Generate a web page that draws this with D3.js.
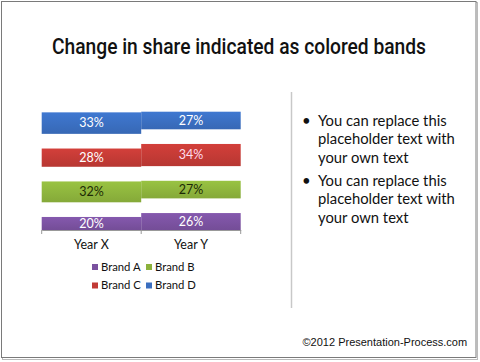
<!DOCTYPE html>
<html><head><meta charset="utf-8">
<script src="https://cdn.jsdelivr.net/npm/d3@7"></script>
<style>html,body{margin:0;padding:0;background:#fff;}svg{display:block;}</style>
</head><body>
<script>
const categories = ["Year X", "Year Y"];
const brands = ["Brand A", "Brand B", "Brand C", "Brand D"];
const brandA = [20, 26];
const brandB = [32, 27];
const brandC = [28, 34];
const brandD = [33, 27];
const spacer = 22.5; // invisible gap band between brands
const colors = ["#7a519f", "#8cb23c", "#c13a35", "#3a6ebf"];
const labelColors = [["#fff", "#fff"], ["#1d2a05", "#1d2a05"], ["#fff", "#fde"], ["#fff", "#fff"]];
const bullets = [["You can replace this", "placeholder text with", "your own text"],
                 ["You can replace this", "placeholder text with", "your own text"]];
const title = "Change in share indicated as colored bands";
const footer = "\u00a92012 Presentation-Process.com";

const W = 480, H = 362;
const svg = d3.select("body").append("svg").attr("width", W).attr("height", H);
const defs = svg.append("defs");
colors.forEach((c, i) => {
  const g = defs.append("linearGradient").attr("id", "g" + i).attr("x1", 0).attr("y1", 0).attr("x2", 0).attr("y2", 1);
  g.append("stop").attr("offset", 0).attr("stop-color", d3.color(c).brighter(0.25));
  g.append("stop").attr("offset", 1).attr("stop-color", d3.color(c).darker(0.15));
});

// frame with shadow
svg.append("rect").attr("x", 2.5).attr("y", 2.5).attr("width", 475).attr("height", 357).attr("fill", "none").attr("stroke", "#bbb");
svg.append("rect").attr("x", 1.5).attr("y", 1.5).attr("width", 474.5).attr("height", 356).attr("fill", "#fff").attr("stroke", "#7a7a7a");

svg.append("text").attr("x", 239).attr("y", 54).attr("text-anchor", "middle")
  .attr("font-family", "Roboto, 'DejaVu Sans Condensed', sans-serif")
  .attr("font-weight", 500).attr("font-size", 22).attr("fill", "#111")
  .attr("textLength", 374).attr("lengthAdjust", "spacingAndGlyphs").text(title);

// data rows with spacers
const rows = categories.map((cat, i) => ({cat, a: brandA[i], s1: spacer, b: brandB[i], s2: spacer, c: brandC[i], s3: spacer, d: brandD[i]}));
const keys = ["a", "s1", "b", "s2", "c", "s3", "d"];
const stack = d3.stack().keys(keys)(rows);
const maxTotal = d3.max(rows, r => keys.reduce((s, k) => s + r[k], 0));

const x = d3.scaleBand().domain(categories).range([41.7, 240.7]).padding(0);
const y = d3.scaleLinear().domain([0, maxTotal]).range([230, 111.7]);

const brandKeys = ["a", "b", "c", "d"];
stack.forEach(layer => {
  const bi = brandKeys.indexOf(layer.key);
  if (bi < 0) return;
  const g = svg.append("g");
  g.selectAll("rect").data(layer).join("rect")
    .attr("x", d => x(d.data.cat)).attr("width", x.bandwidth())
    .attr("y", d => y(d[1])).attr("height", d => y(d[0]) - y(d[1]))
    .attr("fill", "url(#g" + bi + ")");
  g.selectAll("text").data(layer).join("text")
    .attr("x", d => x(d.data.cat) + x.bandwidth() / 2)
    .attr("y", d => (y(d[0]) + y(d[1])) / 2 + 4.3)
    .attr("text-anchor", "middle").attr("font-family", "Lato, 'Open Sans', sans-serif")
    .attr("font-size", 12.5)
    .attr("fill", (d, i) => labelColors[bi][i])
    .text(d => (d[1] - d[0]) + "%");
});

// x axis
const ax = svg.append("g").attr("transform", "translate(0,230)")
  .call(d3.axisBottom(x).tickSize(4).tickSizeOuter(0).tickFormat(""));
ax.select(".domain").attr("stroke", "#999");
ax.selectAll(".tick line").remove();
[41.7, 141.2, 240.7].forEach(v => ax.append("line").attr("x1", v).attr("x2", v).attr("y1", 0).attr("y2", 4).attr("stroke", "#999"));
svg.selectAll(".cat").data(categories).join("text").attr("class", "cat")
  .attr("x", d => x(d) + x.bandwidth() / 2).attr("y", 248.5).attr("text-anchor", "middle")
  .attr("font-family", "Lato, 'Open Sans', sans-serif").attr("font-size", 12.5).attr("fill", "#111").text(d => d);

// legend
const lg = svg.append("g");
brands.forEach((b, i) => {
  const lx = 92 + (i % 2) * 54, ly = 264 + Math.floor(i / 2) * 18.5;
  lg.append("rect").attr("x", lx).attr("y", ly).attr("width", 6).attr("height", 6).attr("fill", colors[i]);
  lg.append("text").attr("x", lx + 9).attr("y", ly + 6.5).attr("font-family", "Lato, 'Open Sans', sans-serif")
    .attr("font-size", 11.3).attr("fill", "#111").text(b);
});

// separator
svg.append("line").attr("x1", 291.5).attr("x2", 291.5).attr("y1", 92).attr("y2", 308).attr("stroke", "#c8c8c8").attr("stroke-width", 1.5);

// bullets
let by = 126;
bullets.forEach(lines => {
  svg.append("text").attr("x", 302).attr("y", by).attr("font-family", "Lato, 'Open Sans', sans-serif").attr("font-size", 15).attr("fill", "#111").text("\u2022");
  lines.forEach(l => {
    svg.append("text").attr("x", 318).attr("y", by).attr("font-family", "Lato, 'Open Sans', sans-serif").attr("font-size", 14.8).attr("fill", "#111").text(l);
    by += 18.3;
  });
  by += 5;
});

svg.append("text").attr("x", 302.5).attr("y", 346).attr("font-family", "'Liberation Sans', Arial, sans-serif")
  .attr("font-size", 11).attr("fill", "#111").text(footer);
</script>
</body></html>
